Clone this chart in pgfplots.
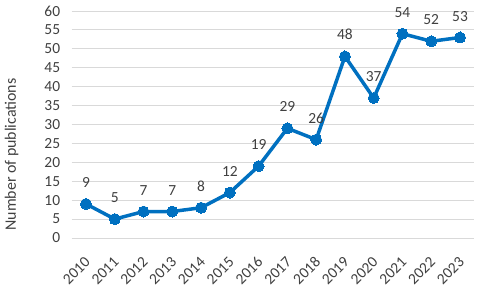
\documentclass[border=0pt]{standalone}
\usepackage{pgfplots}
\pgfplotsset{compat=1.18}
\usepackage{fontspec}
\setmainfont{Carlito}
\definecolor{xlblue}{HTML}{0070C0}
\definecolor{txt}{HTML}{404040}
\definecolor{gridc}{HTML}{D9D9D9}
\begin{document}
\begin{tikzpicture}
\useasboundingbox (-71.6bp,-51bp) rectangle (408.4bp,238bp);
\begin{axis}[
  scale only axis,
  width=402.8bp, height=227bp,
  xmin=-0.5, xmax=13.5,
  ymin=0, ymax=60,
  ytick={0,5,...,60},
  xtick={0,...,13},
  xticklabels={2010,2011,2012,2013,2014,2015,2016,2017,2018,2019,2020,2021,2022,2023},
  xticklabel style={yshift=-19bp, xshift=4bp, rotate=45, anchor=east},
  yticklabel style={xshift=-8bp},
  axis line style={draw=none},
  major tick style={draw=none},
  ymajorgrids,
  grid style={gridc, line width=0.9bp},
  tick label style={font=\fontsize{15.5}{17}\selectfont, text=txt},
  /pgf/number format/assume math mode=true,
  ylabel={Number of publications},
  every axis y label/.style={at={(rel axis cs:0,0.5)}, xshift=-60bp, yshift=-30bp, rotate=90, anchor=center, font=\fontsize{16}{18}\selectfont, text=txt},
  clip=false,
  nodes near coords,
  every node near coord/.append style={font=\fontsize{15.5}{17}\selectfont, text=txt, yshift=13bp},
]
\addplot[xlblue, line width=3.5bp, mark=*, mark size=5.5bp, mark options={fill=xlblue, draw=xlblue, line width=0pt}]
coordinates {(0,9)(1,5)(2,7)(3,7)(4,8)(5,12)(6,19)(7,29)(8,26)(9,48)(10,37)(11,54)(12,52)(13,53)};
\end{axis}
\end{tikzpicture}
\end{document}
